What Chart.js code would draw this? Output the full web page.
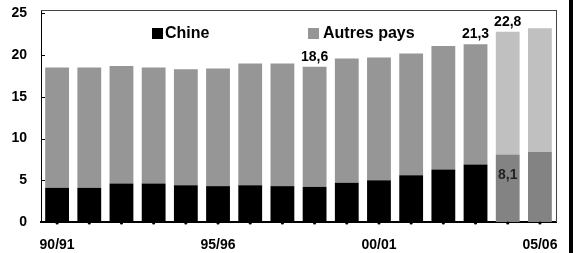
<!DOCTYPE html>
<html>
<head>
<meta charset="utf-8">
<script src="https://cdn.jsdelivr.net/npm/chart.js@4"></script>
<style>
  html, body { margin: 0; padding: 0; background: #fff; }
  #wrap { position: relative; width: 576px; height: 253px; }
</style>
</head>
<body>
<div id="wrap"><canvas id="chart"></canvas></div>
<script>
const campagnes = ["90/91", "91/92", "92/93", "93/94", "94/95", "95/96", "96/97", "97/98",
  "98/99", "99/00", "00/01", "01/02", "02/03", "03/04", "04/05", "05/06"];
const shownLabels = ["90/91", "95/96", "00/01", "05/06"];
const yTicks = [0, 5, 10, 15, 20, 25];
const chine = [4.1, 4.1, 4.6, 4.6, 4.4, 4.3, 4.4, 4.3, 4.2, 4.7, 5.0, 5.6, 6.3, 6.9, 8.1, 8.4];
const autres = [14.4, 14.4, 14.1, 13.9, 13.9, 14.1, 14.6, 14.7, 14.4, 14.9, 14.7, 14.6, 14.8, 14.4, 14.7, 14.8];
// the last two campaigns are estimates, drawn lighter
const firstForecast = 14;
const totalLabelIdx = [8, 13, 14];
const chineLabelIdx = [14];

const FONT = '"Liberation Sans", Arial, sans-serif';
const fmt = v => v.toFixed(1).replace(".", ",");

const chineColors = chine.map((_, i) => i >= firstForecast ? "#838383" : "#000000");
const autresColors = autres.map((_, i) => i >= firstForecast ? "#c0c0c0" : "#969696");

// frame, inner y ticks, value labels, legend
const decorations = {
  id: "decorations",
  afterDraw(chart) {
    const { ctx, chartArea: a, scales: { x, y } } = chart;
    ctx.save();

    ctx.fillStyle = "#444";
    ctx.fillRect(a.left, a.top, a.right - a.left + 1, 1);
    ctx.fillRect(a.right, a.top, 1, a.bottom - a.top);

    ctx.fillStyle = "#000";
    yTicks.forEach(v => {
      ctx.fillRect(a.left, Math.round(y.getPixelForValue(v)), 4, 1);
    });
    campagnes.forEach((c, i) => {
      ctx.beginPath();
      ctx.arc(x.getPixelForValue(i), a.bottom + 1, 1.6, 0, Math.PI * 2);
      ctx.fill();
    });

    ctx.font = `bold 14px ${FONT}`;
    ctx.textAlign = "center";
    ctx.textBaseline = "bottom";
    totalLabelIdx.forEach(i => {
      const tot = chine[i] + autres[i];
      ctx.fillText(fmt(tot), x.getPixelForValue(i), y.getPixelForValue(tot) - 3);
    });
    ctx.textBaseline = "top";
    ctx.fillStyle = "#222";
    chineLabelIdx.forEach(i => {
      ctx.fillText(fmt(chine[i]), x.getPixelForValue(i), y.getPixelForValue(chine[i]) + 14);
    });

    // legend
    ctx.font = `bold 16px ${FONT}`;
    ctx.textAlign = "left";
    ctx.textBaseline = "middle";
    ctx.fillStyle = "#000";
    ctx.fillRect(152, 28, 11, 11);
    ctx.fillText("Chine", 165, 34);
    ctx.fillStyle = "#969696";
    ctx.fillRect(308, 28, 11, 11);
    ctx.fillStyle = "#000";
    ctx.fillText("Autres pays", 323, 34);

    // thick right border of the picture
    ctx.fillRect(569, 0, 4, chart.height);
    ctx.restore();
  }
};

new Chart(document.getElementById("chart"), {
  type: "bar",
  data: {
    labels: campagnes,
    datasets: [
      { label: "Chine", data: chine, backgroundColor: chineColors },
      { label: "Autres pays", data: autres, backgroundColor: autresColors }
    ]
  },
  options: {
    responsive: true,
    maintainAspectRatio: false,
    animation: false,
    layout: { padding: { top: 10, right: 20, left: 0, bottom: 0 } },
    datasets: { bar: { barPercentage: 0.74, categoryPercentage: 1 } },
    plugins: { legend: { display: false }, tooltip: { enabled: false } },
    scales: {
      x: {
        stacked: true,
        border: { color: "#000", width: 2 },
        grid: { display: false, drawTicks: false },
        ticks: {
          autoSkip: false, maxRotation: 0, minRotation: 0, padding: 15,
          color: "#000", font: { family: FONT, size: 14, weight: "bold" },
          callback: (v, i) => shownLabels.includes(campagnes[i]) ? campagnes[i] : ""
        },
        afterFit: s => { s.height = 31; s.paddingLeft = 0; s.paddingRight = 0; }
      },
      y: {
        stacked: true,
        min: 0,
        max: 25.4,
        border: { color: "#000", width: 1 },
        grid: { display: false, drawTicks: false },
        ticks: {
          padding: 14,
          color: "#000", font: { family: FONT, size: 14, weight: "bold" }
        },
        afterBuildTicks: s => { s.ticks = yTicks.map(v => ({ value: v })); },
        afterFit: s => { s.width = 41; s.paddingTop = 0; s.paddingBottom = 0; }
      }
    }
  },
  plugins: [decorations]
});
</script>
</body>
</html>
